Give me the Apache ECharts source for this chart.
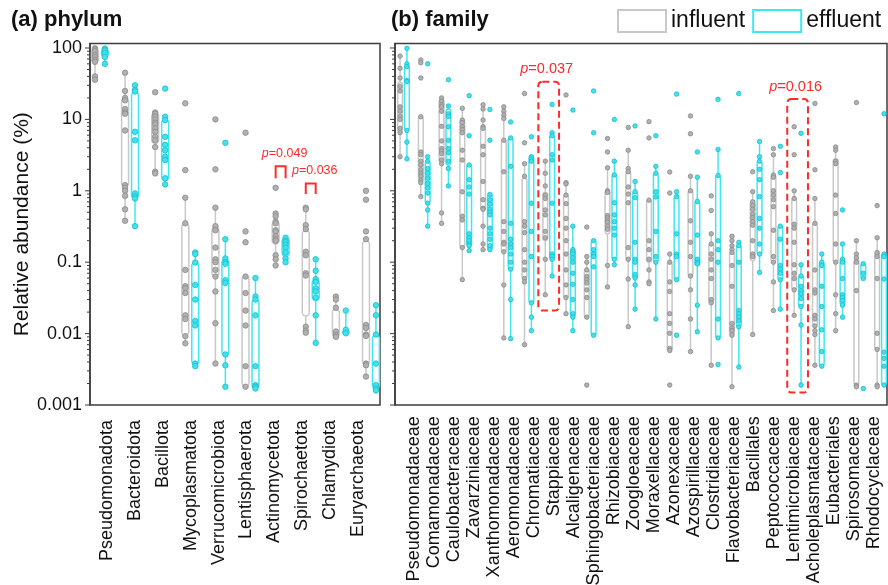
<!DOCTYPE html>
<html lang="en">
<head>
    <meta charset="UTF-8">
    <title>phylum / family abundance</title>
    <script src="https://cdn.jsdelivr.net/npm/echarts@6.0.0/dist/echarts.min.js"></script>
    <style>
        html, body { margin: 0; padding: 0; background: #fff; }
    </style>
</head>
<body>
<div id="main" style="width: 888px; height: 585px;"></div>
<script>
    // ---- data (relative abundance, %) ----
    var phylumNames = ['Pseudomonadota', 'Bacteroidota', 'Bacillota', 'Mycoplasmatota', 'Verrucomicrobiota',
        'Lentisphaerota', 'Actinomycetota', 'Spirochaetota', 'Chlamydiota', 'Euryarchaeota'];

    // samples per phylum
    var phylumInfPts = [
        [99, 95, 90, 80, 75, 68, 64, 40, 36],
        [45, 25, 20, 18.5, 14, 12.5, 12, 7, 1.2, 1.1, 1.0, 0.85, 0.55, 0.38],
        [24, 12.5, 12, 11, 10, 9, 8.5, 7.5, 6.7, 5.7, 5.1, 4.1, 1.85, 1.75],
        [16.8, 1.95, 0.8, 0.35, 0.078, 0.046, 0.043, 0.037, 0.018, 0.016, 0.0092, 0.0073],
        [10, 2.0, 0.58, 0.32, 0.28, 0.16, 0.11, 0.1, 0.078, 0.063, 0.039, 0.014, 0.0038],
        [6.5, 0.27, 0.19, 0.063, 0.037, 0.021, 0.013, 0.0035, 0.0018],
        [1.1, 0.48, 0.44, 0.37, 0.35, 0.28, 0.27, 0.23, 0.21, 0.2, 0.125, 0.11, 0.09],
        [0.58, 0.55, 0.33, 0.29, 0.14, 0.125, 0.07, 0.065, 0.0125, 0.011, 0.0103],
        [0.033, 0.03, 0.023, 0.0107, 0.0095, 0.009],
        [1.0, 0.75, 0.27, 0.21, 0.0132, 0.012, 0.0097, 0.0093, 0.0038, 0.0036, 0.0025]
    ];
    var phylumEffPts = [
        [98, 95, 92, 85, 75, 60],
        [30, 26, 24.6, 6.7, 5.1, 0.92, 0.83, 0.78, 0.32],
        [27, 10.9, 9.8, 5.7, 4.4, 3.7, 3.0, 2.7, 1.5, 1.23],
        [0.137, 0.13, 0.099, 0.048, 0.03, 0.015, 0.013, 0.0038, 0.0035],
        [4.7, 0.21, 0.113, 0.1, 0.095, 0.056, 0.051, 0.0051, 0.0036, 0.0018],
        [0.06, 0.033, 0.03, 0.018, 0.0035, 0.0019, 0.0018, 0.0017],
        [0.22, 0.2, 0.19, 0.175, 0.16, 0.137, 0.113, 0.1],
        [0.11, 0.076, 0.058, 0.053, 0.043, 0.039, 0.032, 0.018, 0.0074],
        [0.021, 0.0113, 0.0101],
        [0.025, 0.018, 0.0097, 0.0038, 0.0019, 0.0017, 0.0016]
    ];
    // [whisker low, q1, q3, whisker high]
    var phylumInfBox = [
        [36, 62, 97, 99], [0.38, 1.15, 20, 45], [1.75, 4.6, 12.3, 12.5], [0.0073, 0.0095, 0.35, 0.8],
        [0.0038, 0.063, 0.31, 0.58], [0.0018, 0.0018, 0.064, 0.064], [0.09, 0.18, 0.37, 0.48],
        [0.0103, 0.0177, 0.28, 0.58], [0.009, 0.009, 0.022, 0.033], [0.0025, 0.0037, 0.2, 0.2]
    ];
    var phylumEffBox = [
        [60, 74, 97, 98], [0.31, 0.78, 24, 30], [1.23, 1.4, 10, 10.9], [0.0035, 0.0037, 0.1, 0.137],
        [0.0018, 0.005, 0.11, 0.21], [0.0017, 0.0017, 0.03, 0.06], [0.097, 0.12, 0.22, 0.22],
        [0.0074, 0.029, 0.057, 0.11], [0.0101, 0.0101, 0.0108, 0.021], [0.0016, 0.0017, 0.0095, 0.025]
    ];

    var familyNames = ['Pseudomonadaceae', 'Comamonadaceae', 'Caulobacteraceae', 'Zavarziniaceae', 'Xanthomonadaceae',
        'Aeromonadaceae', 'Chromatiaceae', 'Stappiaceae', 'Alcaligenaceae', 'Sphingobacteriaceae', 'Rhizobiaceae',
        'Zoogloeaceae', 'Moraxellaceae', 'Azonexaceae', 'Azospirillaceae', 'Clostridiaceae', 'Flavobacteriaceae',
        'Bacillales', 'Peptococcaceae', 'Lentimicrobiaceae', 'Acholeplasmataceae', 'Eubacteriales', 'Spirosomaceae',
        'Rhodocyclaceae'];

    var familyInfPts = [
        [77, 52, 38, 29, 25, 15, 13, 11, 10, 7.5, 6.5, 3.0],
        [68, 62, 38, 10.9, 3.5, 3.2, 2.6, 2.3, 1.97, 1.76, 1.6, 1.4, 1.3, 0.83],
        [20, 18, 16, 15, 13, 8, 5, 3.9, 3.6, 3.3, 2.7, 2.4, 0.49, 0.35],
        [14.3, 9.8, 9, 7.9, 7.2, 6.5, 3.7, 2.7, 0.97, 0.44, 0.39, 0.16, 0.057],
        [16, 14, 9.8, 7.9, 7.5, 4.2, 3.2, 1.35, 0.75, 0.57, 0.55, 0.32, 0.18, 0.15],
        [15, 13, 11.5, 10.3, 5.1, 1.85, 0.37, 0.27, 0.19, 0.18, 0.14, 0.048, 0.0087],
        [23, 4.7, 2.4, 1.6, 0.37, 0.32, 0.26, 0.15, 0.1, 0.078, 0.059, 0.053, 0.007],
        [2.6, 1.76, 1.17, 0.87, 0.78, 0.54, 0.46, 0.27, 0.22, 0.11, 0.035],
        [22, 1.3, 1.25, 0.87, 0.66, 0.41, 0.3, 0.2, 0.13, 0.078, 0.048, 0.032, 0.019],
        [0.31, 0.12, 0.1, 0.078, 0.063, 0.057, 0.051, 0.041, 0.032, 0.017, 0.0019],
        [5.4, 3.5, 2.1, 1.0, 0.95, 0.45, 0.42, 0.39, 0.36, 0.32, 0.29, 0.09, 0.045],
        [7.7, 3.7, 2.05, 1.85, 1.13, 0.9, 0.68, 0.16, 0.11, 0.058, 0.0125],
        [9.3, 5.5, 0.74, 0.2, 0.15, 0.11, 0.078, 0.053, 0.05],
        [1.83, 0.93, 0.13, 0.1, 0.053, 0.039, 0.019, 0.0139, 0.0101, 0.0062, 0.0058, 0.0019],
        [11.2, 6.3, 1.6, 1.0, 0.38, 0.19, 0.12, 0.064, 0.041, 0.016, 0.0056],
        [0.85, 0.53, 0.25, 0.18, 0.13, 0.11, 0.078, 0.059, 0.03, 0.027, 0.0036],
        [0.23, 0.2, 0.17, 0.15, 0.137, 0.09, 0.046, 0.0139, 0.012, 0.011, 0.0095, 0.0018],
        [1.85, 0.97, 0.7, 0.62, 0.55, 0.47, 0.42, 0.37, 0.33, 0.2, 0.13, 0.12, 0.0097],
        [3.9, 3.2, 1.67, 1.55, 1.0, 0.87, 0.75, 0.6, 0.28, 0.12, 0.1, 0.053, 0.021],
        [7.9, 3.2, 1.0, 0.78, 0.34, 0.3, 0.19, 0.092, 0.07, 0.059, 0.041, 0.018],
        [16.7, 1.97, 0.78, 0.35, 0.078, 0.041, 0.037, 0.018, 0.016, 0.0128, 0.011, 0.0097, 0.0036],
        [4.1, 3.7, 2.6, 2.4, 0.87, 0.48, 0.18, 0.1, 0.035, 0.019, 0.011],
        [17.2, 0.2, 0.13, 0.115, 0.1, 0.04, 0.0019, 0.0018],
        [0.62, 0.22, 0.137, 0.12, 0.059, 0.0101, 0.006, 0.0019, 0.0018]
    ];
    var familyEffPts = [
        [99, 60, 55, 35, 34, 7, 4.8, 2.8],
        [60, 3.0, 2.6, 2.05, 1.76, 1.5, 1.27, 1.1, 0.93, 0.67, 0.54, 0.32],
        [36, 15.4, 12, 11, 7.9, 5.1, 3.9, 3.4, 2.6, 2.05, 1.17],
        [21.5, 5.9, 2.3, 1.43, 1.13, 0.9, 0.25, 0.22, 0.2, 0.18, 0.17, 0.145],
        [13.8, 5.1, 0.89, 0.75, 0.65, 0.55, 0.5, 0.46, 0.3, 0.25, 0.21, 0.17, 0.15],
        [9.2, 5.5, 2.2, 0.35, 0.21, 0.18, 0.16, 0.13, 0.1, 0.08, 0.03, 0.0085],
        [5.7, 3.0, 2.8, 2.6, 0.67, 0.27, 0.12, 0.027, 0.017, 0.011],
        [16.2, 6.5, 5.9, 3.2, 2.7, 0.67, 0.13, 0.12, 0.11, 0.064],
        [13.5, 0.32, 0.15, 0.14, 0.13, 0.115, 0.1, 0.07, 0.049, 0.03, 0.019, 0.017, 0.011],
        [25, 6.5, 0.2, 0.15, 0.13, 0.12, 0.086, 0.0095],
        [10, 2.6, 1.67, 0.68, 0.46, 0.37, 0.3, 0.24, 0.11, 0.092],
        [8.1, 1.35, 0.97, 0.8, 0.19, 0.11, 0.1, 0.067, 0.06, 0.048, 0.022],
        [5.9, 2.2, 1.76, 0.97, 0.82, 0.27, 0.12, 0.1, 0.016],
        [22.6, 0.97, 0.83, 0.25, 0.13, 0.12, 0.057, 0.0095],
        [3.5, 1.55, 0.71, 0.24, 0.11, 0.1, 0.095, 0.025, 0.0106],
        [19.1, 3.8, 1.64, 0.2, 0.15, 0.1, 0.016, 0.0087, 0.0037],
        [23, 0.19, 0.17, 0.1, 0.021, 0.019, 0.017, 0.015, 0.0125, 0.0034],
        [4.9, 3.0, 2.6, 2.0, 1.43, 0.83, 0.41, 0.3, 0.18, 0.13, 0.072],
        [4.2, 1.8, 0.32, 0.21, 0.09, 0.08, 0.07, 0.057, 0.022],
        [6.4, 0.092, 0.064, 0.046, 0.04, 0.036, 0.031, 0.024, 0.0132, 0.0019],
        [0.13, 0.1, 0.09, 0.046, 0.024, 0.0113, 0.0056, 0.0035],
        [0.54, 0.18, 0.11, 0.1, 0.059, 0.035, 0.032, 0.029, 0.025, 0.017],
        [0.095, 0.07, 0.059, 0.0017],
        [12, 0.13, 0.12, 0.058, 0.0055, 0.0045, 0.0035, 0.0019]
    ];
    var familyInfBox = [
        [3.0, 6.5, 33, 77], [0.83, 1.4, 10.9, 10.9], [0.35, 2.5, 19, 20.7], [0.057, 0.16, 9.8, 14.3],
        [0.15, 0.55, 7.5, 16], [0.0087, 0.14, 5.1, 15], [0.007, 0.06, 1.5, 2.4], [0.035, 0.2, 0.95, 2.6],
        [0.019, 0.032, 0.87, 1.3], [0.017, 0.017, 0.078, 0.12], [0.045, 0.25, 1.0, 2.1], [0.0125, 0.11, 1.85, 3.7],
        [0.05, 0.1, 0.74, 0.74], [0.0058, 0.0058, 0.1, 0.13], [0.0056, 0.064, 1.0, 1.6], [0.0036, 0.027, 0.18, 0.25],
        [0.0018, 0.0095, 0.137, 0.23], [0.0097, 0.105, 0.7, 0.97], [0.021, 0.1, 1.67, 3.2], [0.018, 0.041, 0.78, 1.0],
        [0.0036, 0.0128, 0.35, 0.78], [0.011, 0.1, 2.8, 4.1], [0.0018, 0.0019, 0.11, 0.2], [0.0018, 0.006, 0.137, 0.22]
    ];
    var familyEffBox = [
        [2.8, 7.1, 58, 99], [0.32, 0.67, 2.6, 3.0], [1.17, 2.3, 14, 15.4], [0.145, 0.17, 2.3, 2.3],
        [0.15, 0.15, 0.89, 0.89], [0.0085, 0.08, 5.5, 5.5], [0.011, 0.027, 3.0, 3.0], [0.064, 0.11, 6.0, 6.5],
        [0.011, 0.017, 0.15, 0.32], [0.0095, 0.0095, 0.2, 0.2], [0.092, 0.11, 1.67, 2.6], [0.022, 0.06, 0.97, 1.35],
        [0.016, 0.1, 1.76, 2.2], [0.057, 0.057, 0.83, 0.97], [0.0106, 0.09, 0.71, 1.55], [0.0087, 0.0087, 1.64, 3.8],
        [0.0034, 0.0125, 0.17, 0.19], [0.072, 0.13, 2.6, 4.9], [0.022, 0.057, 0.32, 0.32], [0.0019, 0.024, 0.064, 0.092],
        [0.0035, 0.0035, 0.1, 0.13], [0.017, 0.025, 0.11, 0.18], [0.059, 0.059, 0.095, 0.095], [0.0019, 0.0019, 0.13, 0.13]
    ];

    // significance marks
    var phylumSigIdx = [6, 7];
    var phylumPValues = ['0.049', '0.036'];
    var phylumBracketTop = [2.2, 1.27];
    var phylumBracketFoot = [1.5, 0.9];
    var familySigIdx = [7, 19];
    var familyPValues = ['0.037', '0.016'];
    var familyRectTop = [33.7, 19.3];
    var familyRectBottom = [0.021, 0.0015];

    var yTickLabels = ['0.001', '0.01', '0.1', '1', '10', '100'];

    // ---- styles ----
    var FONT = 'Arial, "Liberation Sans", Helvetica, sans-serif';
    var GRAY_BOX = '#c8c8c8', CYAN_BOX = '#3ee8f2';
    var GRAY_PT = '#b0b0b0', GRAY_PT_EDGE = '#8a8a8a';
    var CYAN_PT = '#3fe2ee', CYAN_PT_EDGE = '#1bbcc8';
    var RED = '#ff2a2a';
    var AXIS = '#3c3c3c';
    var OFF = 0.165;

    function pointsData(groups, offset) {
        var out = [];
        groups.forEach(function (g, i) {
            g.forEach(function (v) { out.push([i + offset, v]); });
        });
        return out;
    }
    function boxData(boxes, offset) {
        return boxes.map(function (b, i) { return [i + offset, b[0], b[1], b[2], b[3]]; });
    }

    var tickValues = [];
    for (var e = -3; e <= 2; e++) {
        for (var m = 1; m <= 9; m++) {
            var tv = m * Math.pow(10, e);
            if (tv <= 100.0001) tickValues.push([0, tv]);
        }
    }

    function renderTick(params, api) {
        var v = api.value(1);
        var y = api.coord([api.value(0), v])[1];
        var x0 = params.coordSys.x;
        var lg = Math.log10(v);
        var len = Math.abs(lg - Math.round(lg)) < 1e-6 ? 5 : 3;
        return { type: 'line', shape: { x1: x0 - len, y1: y, x2: x0, y2: y }, style: { stroke: AXIS, lineWidth: 1 } };
    }

    function makeBoxRender(color) {
        return function (params, api) {
            var x = api.value(0);
            var lo = api.coord([x, api.value(1)]);
            var q1 = api.coord([x, api.value(2)]);
            var q3 = api.coord([x, api.value(3)]);
            var hi = api.coord([x, api.value(4)]);
            var w = api.coord([x + 0.115, api.value(2)])[0] - api.coord([x - 0.115, api.value(2)])[0];
            var h = Math.max(q1[1] - q3[1], 1);
            var st = { stroke: color, lineWidth: 1.5, fill: null };
            return {
                type: 'group', children: [
                    { type: 'line', shape: { x1: hi[0], y1: hi[1], x2: q3[0], y2: q3[1] }, style: st },
                    { type: 'line', shape: { x1: q1[0], y1: q1[1], x2: lo[0], y2: lo[1] }, style: st },
                    { type: 'rect', shape: { x: q3[0] - w / 2, y: q3[1], width: w, height: h, r: w / 2 }, style: st }
                ]
            };
        };
    }

    function pText(p, size) {
        return {
            text: '{i|p}{n|=' + p + '}',
            rich: {
                i: { fontStyle: 'italic', fontSize: size, fontFamily: FONT, fill: RED },
                n: { fontSize: size, fontFamily: FONT, fill: RED }
            },
            fill: RED, fontSize: size, fontFamily: FONT,
            align: 'center', verticalAlign: 'bottom'
        };
    }

    function renderBracket(params, api) {
        var i = api.value(0);
        var a = api.coord([i - OFF, api.value(1)]);
        var b = api.coord([i + OFF, api.value(2)]);
        return {
            type: 'group', children: [
                { type: 'polyline', shape: { points: [[a[0], b[1]], [a[0], a[1]], [b[0], a[1]], [b[0], b[1]]] },
                  style: { stroke: RED, lineWidth: 2, fill: null } },
                { type: 'text', x: (a[0] + b[0]) / 2 + 4, y: a[1] - 6, style: pText(phylumPValues[params.dataIndex], 12.5) }
            ]
        };
    }

    function renderRect(params, api) {
        var i = api.value(0);
        var a = api.coord([i - 0.5, api.value(1)]);
        var b = api.coord([i + 0.5, api.value(2)]);
        return {
            type: 'group', children: [
                { type: 'rect', shape: { x: a[0], y: a[1], width: b[0] - a[0], height: b[1] - a[1], r: 4 },
                  style: { stroke: RED, lineWidth: 2, fill: null, lineDash: [7, 4] } },
                { type: 'text', x: (a[0] + b[0]) / 2 - 2, y: a[1] - 5, style: pText(familyPValues[params.dataIndex], 14.5) }
            ]
        };
    }

    function yLabel(v) {
        var lg = Math.log10(v);
        var k = Math.round(lg);
        if (Math.abs(lg - k) > 1e-6) return '';
        return yTickLabels[k + 3] || '';
    }

    function logAxis(gridIndex, showLabels) {
        return {
            type: 'log', logBase: 10, gridIndex: gridIndex, min: 0.001, max: 115.6,
            axisLine: { show: true, onZero: false, lineStyle: { color: AXIS, width: 1.5 } },
            axisTick: { show: false }, minorTick: { show: false },
            splitLine: { show: false },
            axisLabel: { show: showLabels, formatter: yLabel, fontSize: 18, fontFamily: FONT, color: '#111', margin: 8 },
            name: showLabels ? 'Relative abundance (%)' : '',
            nameLocation: 'middle', nameGap: 56,
            nameTextStyle: { fontSize: 21, fontFamily: FONT, color: '#111' }
        };
    }

    function labelAxis(gridIndex, names) {
        return {
            type: 'category', gridIndex: gridIndex, data: names,
            axisLine: { show: false }, axisTick: { show: false },
            axisLabel: { rotate: 90, interval: 0, fontSize: 18, fontFamily: FONT, color: '#111', margin: 15 }
        };
    }

    function custom(name, xi, data, render, z) {
        return {
            type: 'custom', name: name, xAxisIndex: xi, yAxisIndex: xi, clip: false, z: z,
            renderItem: render, data: data, encode: { x: 0, y: [1] }, silent: true
        };
    }

    function scatter(name, xi, data, fill, edge, size) {
        return {
            type: 'scatter', name: name, xAxisIndex: xi, yAxisIndex: xi, data: data, symbolSize: size, z: 5,
            itemStyle: { color: fill, borderColor: edge, borderWidth: 0.8, opacity: 1 }, silent: true
        };
    }

    var chart = echarts.init(document.getElementById('main'), null, { renderer: 'canvas' });

    var option = {
        backgroundColor: '#fff',
        animation: false,
        title: [
            { text: '(a) phylum', left: 11, top: 9, padding: 0,
              textStyle: { fontSize: 22, fontWeight: 'bold', fontFamily: FONT, color: '#111' } },
            { text: '(b) family', left: 391, top: 9, padding: 0,
              textStyle: { fontSize: 22, fontWeight: 'bold', fontFamily: FONT, color: '#111' } }
        ],
        legend: {
            left: 617, top: 9, padding: 0, itemWidth: 48, itemHeight: 22, itemGap: 7,
            icon: 'rect', selectedMode: false,
            textStyle: { fontSize: 23, fontFamily: FONT, color: '#111' },
            data: [
                { name: 'influent', itemStyle: { color: '#fff', borderColor: GRAY_BOX, borderWidth: 2 } },
                { name: 'effluent', itemStyle: { color: '#fff', borderColor: CYAN_BOX, borderWidth: 2 } }
            ]
        },
        grid: [
            { left: 90, top: 43.5, width: 290, height: 361.5, show: true, borderColor: AXIS, borderWidth: 1.5, backgroundColor: 'transparent' },
            { left: 395, top: 43.5, width: 492, height: 361.5, show: true, borderColor: AXIS, borderWidth: 1.5, backgroundColor: 'transparent' },
            { left: 93, top: 400, width: 279, height: 5 },
            { left: 404, top: 400, width: 480, height: 5 }
        ],
        xAxis: [
            { type: 'value', gridIndex: 0, min: -0.33, max: 9.3, show: false },
            { type: 'value', gridIndex: 1, min: -0.41, max: 23.31, show: false },
            labelAxis(2, phylumNames),
            labelAxis(3, familyNames)
        ],
        yAxis: [
            logAxis(0, true),
            logAxis(1, false),
            { type: 'value', gridIndex: 2, show: false },
            { type: 'value', gridIndex: 3, show: false }
        ],
        series: [
            custom('ticksA', 0, tickValues, renderTick, 3),
            custom('ticksB', 1, tickValues, renderTick, 3),
            custom('influent', 0, boxData(phylumInfBox, -OFF), makeBoxRender(GRAY_BOX), 2),
            custom('effluent', 0, boxData(phylumEffBox, OFF), makeBoxRender(CYAN_BOX), 2),
            custom('influent', 1, boxData(familyInfBox, -OFF), makeBoxRender(GRAY_BOX), 2),
            custom('effluent', 1, boxData(familyEffBox, OFF), makeBoxRender(CYAN_BOX), 2),
            scatter('influent samples', 0, pointsData(phylumInfPts, -OFF), GRAY_PT, GRAY_PT_EDGE, 5.5),
            scatter('effluent samples', 0, pointsData(phylumEffPts, OFF), CYAN_PT, CYAN_PT_EDGE, 5.5),
            scatter('influent samples', 1, pointsData(familyInfPts, -OFF), GRAY_PT, GRAY_PT_EDGE, 4.5),
            scatter('effluent samples', 1, pointsData(familyEffPts, OFF), CYAN_PT, CYAN_PT_EDGE, 4.5),
            custom('sigA', 0, phylumSigIdx.map(function (i, k) { return [i, phylumBracketTop[k], phylumBracketFoot[k]]; }), renderBracket, 6),
            custom('sigB', 1, familySigIdx.map(function (i, k) { return [i, familyRectTop[k], familyRectBottom[k]]; }), renderRect, 6)
        ]
    };

    chart.setOption(option);
</script>
</body>
</html>
